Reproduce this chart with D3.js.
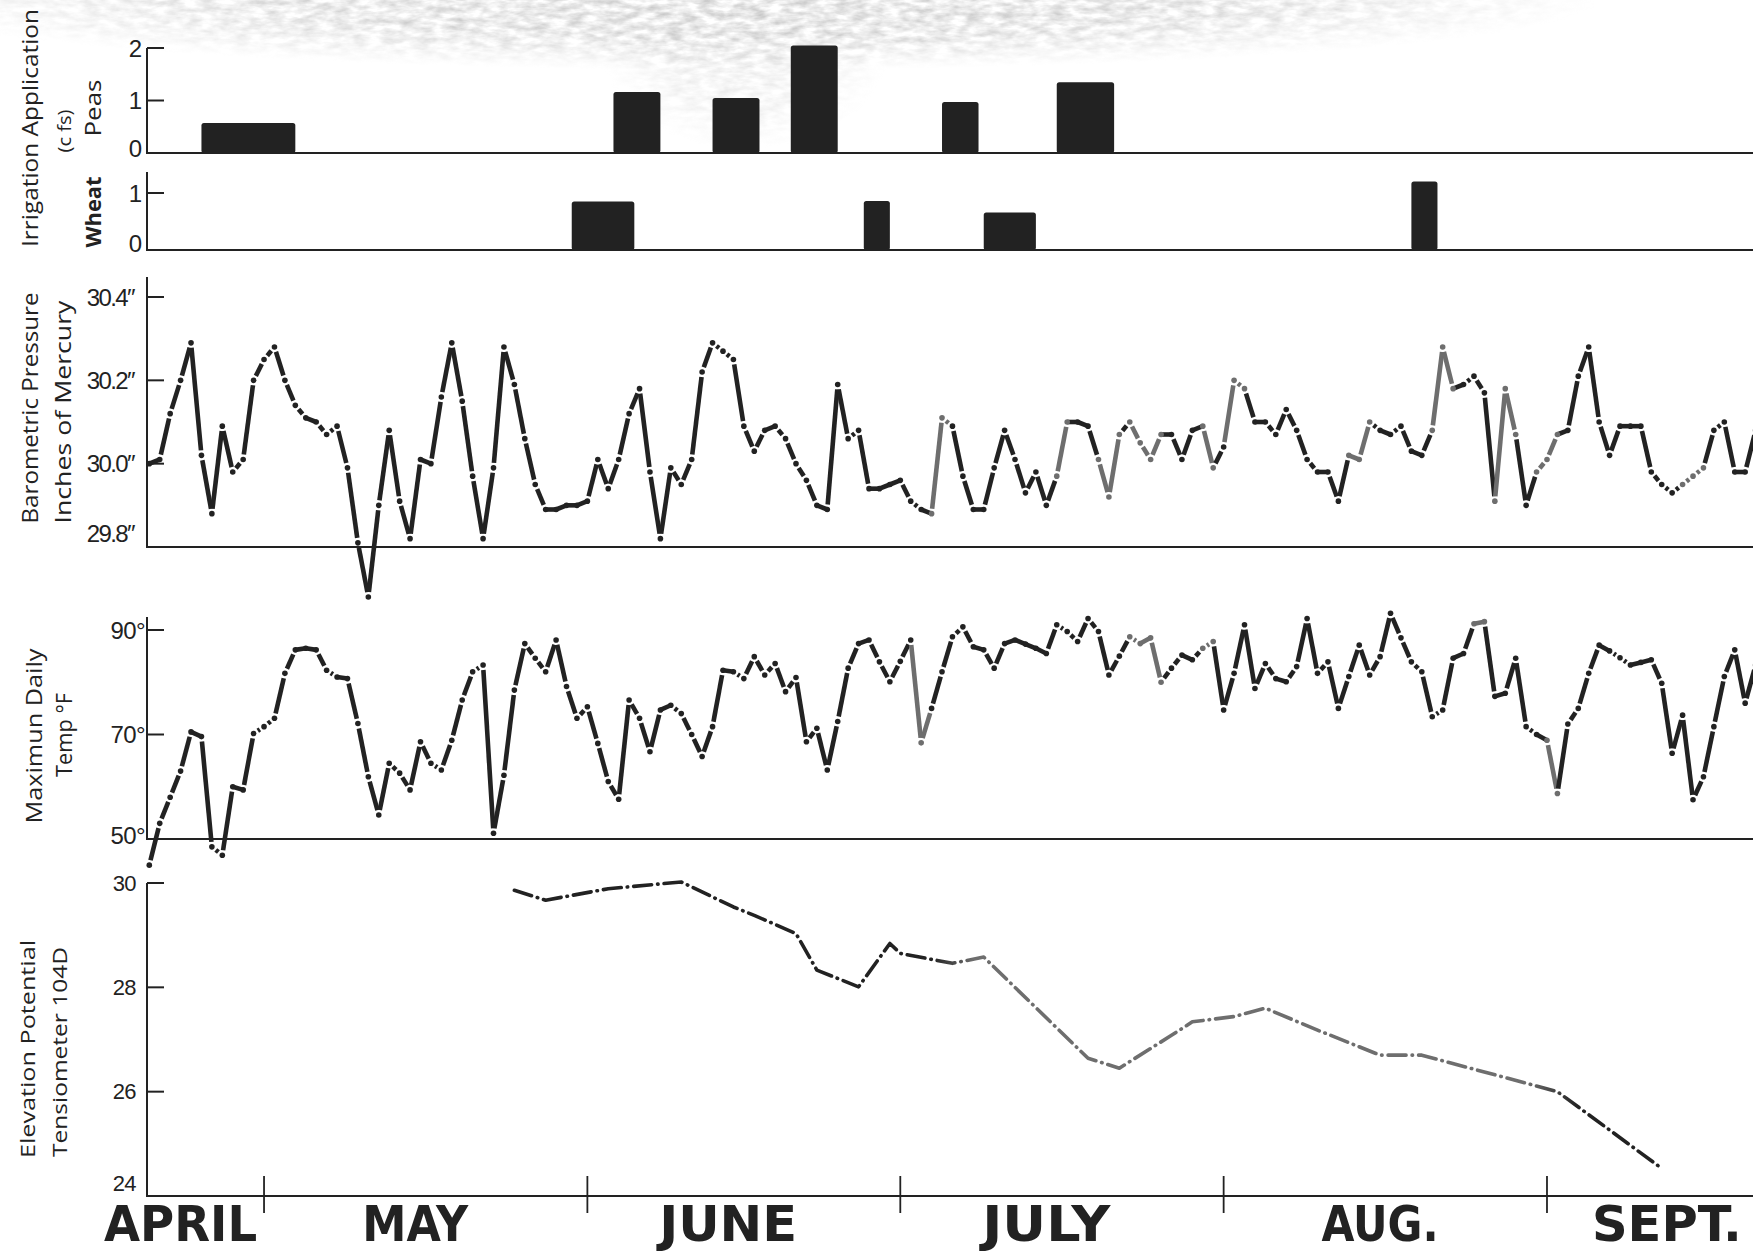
<!DOCTYPE html>
<html>
<head>
<meta charset="utf-8">
<script src="https://cdn.jsdelivr.net/npm/d3@7"></script>
<style>
  html, body { margin: 0; padding: 0; background: #ffffff; }
  svg { display: block; }
</style>
</head>
<body>
<svg id="chart" width="1753" height="1253"></svg>
<script>
// ---- Season data. Day numbers count from April 1 (day 0). ----
const monthNames = ["APRIL", "MAY", "JUNE", "JULY", "AUG.", "SEPT."];
const monthLabelDays = [22, 44.5, 74.5, 105, 137, 164.5];

// Irrigation applications (cfs): start day, end day, rate
const peasStart = [24, 63.5, 73, 80.5, 95, 106];
const peasEnd   = [33, 68, 77.5, 85, 98.5, 111.5];
const peasCfs   = [0.57, 1.16, 1.05, 2.05, 0.97, 1.35];

const wheatStart = [59.5, 87.5, 99, 140];
const wheatEnd   = [65.5, 90, 104, 142.5];
const wheatCfs   = [0.85, 0.86, 0.66, 1.2];

// Daily barometric pressure (inches of mercury)
const pressureDays = [19,20,21,22,23,24,25,26,27,28,29,30,31,32,33,34,35,36,37,38,39,40,41,42,43,44,45,46,47,48,49,50,51,52,53,54,55,56,57,58,59,60,61,62,63,64,65,66,67,68,69,70,71,72,73,74,75,76,77,78,79,80,81,82,83,84,85,86,87,88,89,90,91,92,93,94,95,96,97,98,99,100,101,102,103,104,105,106,107,108,109,110,111,112,113,114,115,116,117,118,119,120,121,122,123,124,125,126,127,128,129,130,131,132,133,134,135,136,137,138,139,140,141,142,143,144,145,146,147,148,149,150,151,152,153,154,155,156,157,158,159,160,161,162,163,164,165,166,167,168,169,170,171,172,173];
const pressureInHg = [30.00,30.01,30.12,30.20,30.29,30.02,29.88,30.09,29.98,30.01,30.20,30.25,30.28,30.20,30.14,30.11,30.10,30.07,30.09,29.99,29.81,29.68,29.90,30.08,29.91,29.82,30.01,30.00,30.16,30.29,30.15,29.97,29.82,29.99,30.28,30.19,30.06,29.95,29.89,29.89,29.90,29.90,29.91,30.01,29.94,30.01,30.12,30.18,29.98,29.82,29.99,29.95,30.01,30.22,30.29,30.27,30.25,30.09,30.03,30.08,30.09,30.06,30.00,29.96,29.90,29.89,30.19,30.06,30.08,29.94,29.94,29.95,29.96,29.91,29.89,29.88,30.11,30.09,29.97,29.89,29.89,29.99,30.08,30.01,29.93,29.98,29.90,29.97,30.10,30.10,30.09,30.01,29.92,30.07,30.10,30.05,30.01,30.07,30.07,30.01,30.08,30.09,29.99,30.04,30.20,30.18,30.10,30.10,30.07,30.13,30.08,30.01,29.98,29.98,29.91,30.02,30.01,30.10,30.08,30.07,30.09,30.03,30.02,30.08,30.28,30.18,30.19,30.21,30.17,29.91,30.18,30.07,29.90,29.98,30.01,30.07,30.08,30.21,30.28,30.10,30.02,30.09,30.09,30.09,29.98,29.95,29.93,29.95,29.97,29.99,30.08,30.10,29.98,29.98,30.08];

// Daily maximum temperature (°F)
const tempDays = [19,20,21,22,23,24,25,26,27,28,29,30,31,32,33,34,35,36,37,38,39,40,41,42,43,44,45,46,47,48,49,50,51,52,53,54,55,56,57,58,59,60,61,62,63,64,65,66,67,68,69,70,71,72,73,74,75,76,77,78,79,80,81,82,83,84,85,86,87,88,89,90,91,92,93,94,95,96,97,98,99,100,101,102,103,104,105,106,107,108,109,110,111,112,113,114,115,116,117,118,119,120,121,122,123,124,125,126,127,128,129,130,131,132,133,134,135,136,137,138,139,140,141,142,143,144,145,146,147,148,149,150,151,152,153,154,155,156,157,158,159,160,161,162,163,164,165,166,167,168,169,170,171,172,173];
const tempF = [45,53,58,63,70.5,69.6,48.5,46.9,60,59.4,70.2,71.5,73.1,81.7,86.2,86.5,86.2,82.3,81.0,80.7,72.1,61.9,54.6,64.5,62.6,59.4,68.6,64.5,63.2,68.9,76.6,82.0,83.3,51.1,62.2,78.5,87.4,84.6,82.0,88.1,79.2,73.1,75.3,68.3,61.0,57.6,76.6,73.1,66.7,74.7,75.6,74.0,70.0,65.8,71.5,82.3,82.0,80.7,84.9,81.4,83.6,78.2,80.9,68.6,71.2,63.2,72.5,82.7,87.4,88.1,83.9,80.1,84.0,88.1,68.4,75.0,82.0,88.7,90.6,86.8,86.2,82.7,87.4,88.1,87.3,86.5,85.5,91.0,89.7,87.8,92.2,89.7,81.4,85.0,88.7,87.4,88.5,80.0,82.7,85.2,84.3,86.5,87.8,74.7,81.7,91.0,78.8,83.6,80.7,80.1,83.0,92.2,81.7,83.9,75.0,81.1,87.1,81.4,84.9,93.2,88.5,83.9,82.0,73.4,74.7,84.6,85.5,91.2,91.6,77.3,77.9,84.6,71.5,70.0,68.9,58.7,72.0,75.0,81.7,87.1,86.0,84.7,83.3,83.8,84.3,79.8,66.4,73.7,57.5,61.9,71.5,81.1,86.2,76.0,83.3];

// Elevation potential, tensiometer 104D
const tensDays = [54,57,63,70,75,77,81,83,87,90,91,96,99,109,112,117,119,123,126,131,137,141,154,164];
const tensElev = [29.86,29.67,29.89,30.02,29.54,29.38,29.03,28.33,28.01,28.84,28.65,28.46,28.58,26.64,26.45,27.08,27.34,27.44,27.60,27.18,26.70,26.70,26.00,24.53];

// Axis ticks
const peasTicks = [0, 1, 2];
const wheatTicks = [0, 1];
const pressureTicks = [29.8, 30.0, 30.2, 30.4];
const tempTicks = [50, 70, 90];
const tensTicks = [24, 26, 28, 30];

// Stretches of the traces printed in lighter ink (day ranges)
const pressureFaded = [[94, 95.5], [106, 107], [110, 112], [113, 114.5], [115, 116], [120, 121], [122.5, 124], [134, 136], [142, 144], [148, 150], [152, 154], [166, 168]];
const tempFaded = [[92.5, 93.5], [113, 116], [120, 121], [146, 147], [153, 154]];

// ---- Layout ----
const ink = "#222222";
const faded = "#6e6e6e";
const axisX = 147, rightX = 1753;
const dayMs = 864e5;
const t0 = Date.UTC(1970, 3, 1);
const toDate = d => new Date(t0 + d * dayMs);

const svg = d3.select("#chart");
const defs = svg.append("defs");
svg.append("rect").attr("width", 1753).attr("height", 1253).attr("fill", "#ffffff");

// Fine grey speckle worn into the top edge of the sheet
const grain = defs.append("filter").attr("id", "grain")
  .attr("x", 0).attr("y", 0).attr("width", "100%").attr("height", "100%");
grain.append("feTurbulence").attr("type", "fractalNoise")
  .attr("baseFrequency", "0.06 0.16").attr("numOctaves", 3).attr("seed", 5);
grain.append("feColorMatrix").attr("type", "matrix")
  .attr("values", "0 0 0 0 0.5  0 0 0 0 0.5  0 0 0 0 0.5  1.5 0 0 0 -0.42");

function softSpot(id, peak) {
  const rg = defs.append("radialGradient").attr("id", id);
  rg.append("stop").attr("offset", 0).attr("stop-color", "#fff").attr("stop-opacity", peak);
  rg.append("stop").attr("offset", 0.55).attr("stop-color", "#fff").attr("stop-opacity", peak * 0.75);
  rg.append("stop").attr("offset", 1).attr("stop-color", "#fff").attr("stop-opacity", 0);
}
softSpot("spotTop", 1);
softSpot("spotMid", 0.45);
const hm = defs.append("mask").attr("id", "hazeMask").attr("maskUnits", "userSpaceOnUse")
  .attr("x", 0).attr("y", 0).attr("width", 1753).attr("height", 260);
hm.append("rect").attr("x", -120).attr("y", -70).attr("width", 1720).attr("height", 140).attr("fill", "url(#spotTop)");
hm.append("rect").attr("x", 600).attr("y", -60).attr("width", 290).attr("height", 210).attr("fill", "url(#spotMid)");
svg.append("rect").attr("x", 0).attr("y", 0).attr("width", 1753).attr("height", 260)
  .attr("filter", "url(#grain)").attr("mask", "url(#hazeMask)");

const x = d3.scaleUtc().domain([toDate(19), toDate(173)]).range([149.3, 1755.6]);

const peasY = d3.scaleLinear().domain([0, 2]).range([153, 48]);
const wheatY = d3.scaleLinear().domain([0, 1]).range([250, 193]);
const pressY = d3.scaleLinear().domain([29.8, 30.4]).range([547, 297]);
const tempY = d3.scaleLinear().domain([50, 90]).range([839, 630]);
const tensY = d3.scaleLinear().domain([24, 30]).range([1196, 883]);

const tickFont = "'Liberation Sans', Arial, sans-serif";

function panelAxis(y, top, ticks, fmt, labelRight, baseLift, fontSize, spacing) {
  const g = svg.append("g");
  const base = y(y.domain()[0]);
  g.append("line").attr("x1", axisX).attr("x2", axisX).attr("y1", top).attr("y2", base)
    .attr("stroke", ink).attr("stroke-width", 2);
  g.append("line").attr("x1", axisX - 1).attr("x2", rightX).attr("y1", base).attr("y2", base)
    .attr("stroke", ink).attr("stroke-width", 2.2);
  g.selectAll("line.tick").data(ticks.slice(1)).join("line").attr("class", "tick")
    .attr("x1", axisX).attr("x2", axisX + 17)
    .attr("y1", d => y(d)).attr("y2", d => y(d))
    .attr("stroke", ink).attr("stroke-width", 2);
  g.selectAll("text").data(ticks).join("text")
    .attr("x", labelRight)
    .attr("y", (d, i) => y(d) - (i === 0 ? baseLift : 0))
    .attr("text-anchor", "end").attr("dominant-baseline", "central")
    .attr("font-family", tickFont).attr("font-size", fontSize)
    .attr("letter-spacing", spacing)
    .attr("fill", ink).text(fmt);
}

panelAxis(peasY, 48, peasTicks, d => d, 142, 5, 24, 0);
panelAxis(wheatY, 172, wheatTicks, d => d, 142, 7, 24, 0);
panelAxis(pressY, 277, pressureTicks, d => d.toFixed(1) + "\u2033", 134, 14, 24, -1.6);
panelAxis(tempY, 617, tempTicks, d => d + "\u00B0", 145, 4, 24, -0.6);
panelAxis(tensY, 883, tensTicks, d => d, 136, 13, 22, -0.6);

// ---- Irrigation bars ----
function bars(starts, ends, vals, y) {
  svg.append("g").selectAll("rect").data(vals).join("rect")
    .attr("x", (d, i) => x(toDate(starts[i])))
    .attr("width", (d, i) => x(toDate(ends[i])) - x(toDate(starts[i])))
    .attr("y", d => y(d))
    .attr("height", d => y(0) - y(d))
    .attr("rx", 2.5)
    .attr("fill", ink);
}
bars(peasStart, peasEnd, peasCfs, peasY);
bars(wheatStart, wheatEnd, wheatCfs, wheatY);

// ---- Daily series: a dot per reading joined by short dashes ----
function dailySeries(days, vals, y, fadedSpans, width, r) {
  const inFaded = d => fadedSpans.some(([a, b]) => d >= a && d <= b);
  const pts = days.map((d, i) => ({ d, p: [x(toDate(d)), y(vals[i])] }));
  const g = svg.append("g");
  const gap = r + 2.2;
  g.selectAll("line").data(d3.pairs(pts)).join("line")
    .each(function ([a, b]) {
      const dx = b.p[0] - a.p[0], dy = b.p[1] - a.p[1], L = Math.hypot(dx, dy);
      const k = L > 2 * gap + 2 ? gap / L : 0;
      d3.select(this)
        .attr("x1", a.p[0] + dx * k).attr("y1", a.p[1] + dy * k)
        .attr("x2", b.p[0] - dx * k).attr("y2", b.p[1] - dy * k)
        .attr("stroke", inFaded((a.d + b.d) / 2) ? faded : ink);
    })
    .attr("stroke-width", width).attr("stroke-linecap", "butt");
  g.selectAll("circle").data(pts).join("circle")
    .attr("cx", d => d.p[0]).attr("cy", d => d.p[1]).attr("r", r)
    .attr("fill", d => inFaded(d.d) ? faded : ink);
}
dailySeries(pressureDays, pressureInHg, pressY, pressureFaded, 4.6, 2.8);
dailySeries(tempDays, tempF, tempY, tempFaded, 4.6, 2.8);

// ---- Tensiometer: dash-dot line, ink fading through mid-season ----
const grad = defs.append("linearGradient")
  .attr("id", "tensInk").attr("gradientUnits", "userSpaceOnUse")
  .attr("x1", axisX).attr("x2", rightX).attr("y1", 0).attr("y2", 0);
const gOff = d => (x(toDate(d)) - axisX) / (rightX - axisX);
grad.selectAll("stop").data([[0, ink], [gOff(94), ink], [gOff(98), faded], [gOff(151), faded], [gOff(156), ink], [1, ink]])
  .join("stop").attr("offset", d => d[0]).attr("stop-color", d => d[1]);

svg.append("path")
  .datum(tensDays.map((d, i) => [d, tensElev[i]]))
  .attr("d", d3.line().x(d => x(toDate(d[0]))).y(d => tensY(d[1])))
  .attr("fill", "none").attr("stroke", "url(#tensInk)").attr("stroke-width", 3.6)
  .attr("stroke-linecap", "round").attr("stroke-linejoin", "round")
  .attr("stroke-dasharray", "18 6 0.5 6");

// ---- Month axis ----
const baseY = tensY(24);
svg.append("g").selectAll("line").data(x.ticks(d3.utcMonth.every(1))).join("line")
  .attr("x1", d => x(d)).attr("x2", d => x(d))
  .attr("y1", baseY - 20).attr("y2", baseY + 17)
  .attr("stroke", ink).attr("stroke-width", 1.8);

const monthWidths = [153, 106, 138, 128, 117, 150];
svg.append("g").selectAll("text").data(monthNames).join("text")
  .attr("x", (d, i) => x(toDate(monthLabelDays[i])))
  .attr("y", 1241)
  .attr("text-anchor", "middle")
  .attr("font-family", "'Liberation Sans Narrow', 'DejaVu Sans Condensed', 'Arial Narrow', sans-serif")
  .attr("font-weight", "bold").attr("font-size", 50)
  .attr("textLength", (d, i) => monthWidths[i]).attr("lengthAdjust", "spacingAndGlyphs")
  .attr("fill", ink).text(d => d);

// ---- Rotated axis titles ----
const titles = [
  { t: "Irrigation Application", cx: 30, cy: 128, size: 21, w: 400, len: 238 },
  { t: "(c fs)", cx: 64, cy: 131, size: 19, w: 400, len: 43 },
  { t: "Peas", cx: 93, cy: 108, size: 21, w: 500, len: 57 },
  { t: "Wheat", cx: 93, cy: 212, size: 21, w: 700, len: 71 },
  { t: "Barometric Pressure", cx: 29, cy: 408, size: 22, w: 400, len: 231 },
  { t: "Inches of Mercury", cx: 62, cy: 412, size: 22, w: 400, len: 223 },
  { t: "Maximun Daily", cx: 33, cy: 736, size: 22, w: 400, len: 175 },
  { t: "Temp \u00B0F", cx: 63, cy: 735, size: 22, w: 400, len: 84 },
  { t: "Elevation Potential", cx: 27, cy: 1049, size: 20, w: 400, len: 218 },
  { t: "Tensiometer 104D", cx: 59, cy: 1052, size: 20, w: 400, len: 210 }
];
svg.append("g").selectAll("text").data(titles).join("text")
  .attr("transform", d => `translate(${d.cx},${d.cy}) rotate(-90)`)
  .attr("text-anchor", "middle").attr("dominant-baseline", "central")
  .attr("font-family", "'Open Sans', 'Liberation Sans', sans-serif")
  .attr("font-size", d => d.size).attr("font-weight", d => d.w)
  .attr("textLength", d => d.len).attr("lengthAdjust", "spacingAndGlyphs")
  .attr("fill", ink).text(d => d.t);
</script>
</body>
</html>
